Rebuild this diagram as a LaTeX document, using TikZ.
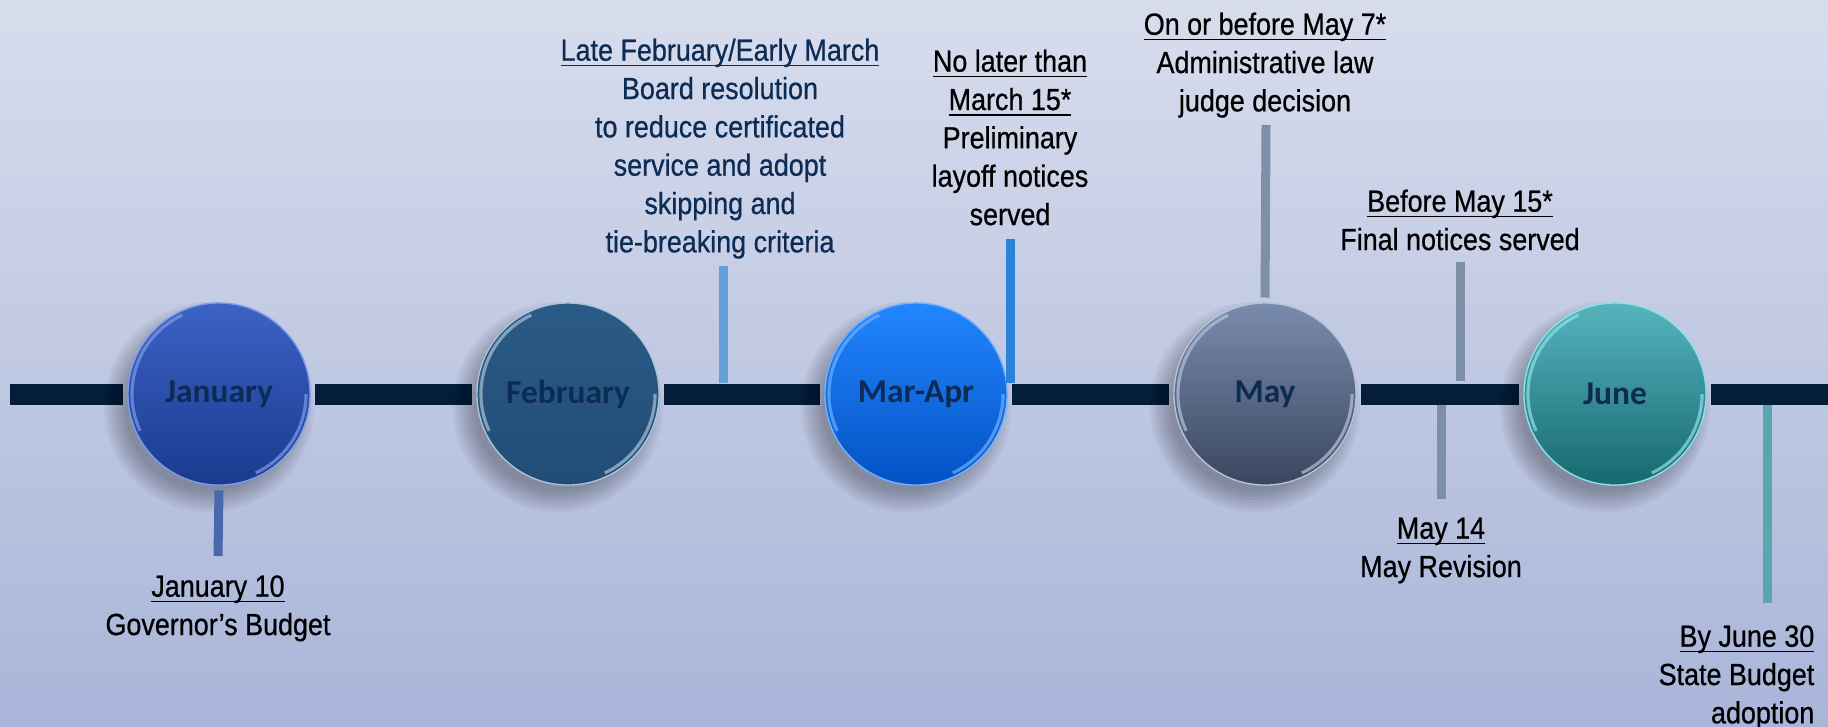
\documentclass[tikz,border=0pt]{standalone}
\usepackage{fontspec}
\usetikzlibrary{calc}
\newfontfamily\evfont[FakeStretch=0.88, FakeBold=0.6]{Liberation Sans}
\newfontfamily\mofont{Carlito}
\newcommand\ulbox[1]{\underline{\smash{#1}}}

\definecolor{bgtop}{HTML}{D8DDED}
\definecolor{bgbot}{HTML}{A9B5D9}
\definecolor{barnavy}{HTML}{031D3A}
\definecolor{txtnavy}{HTML}{0C2C55}
\definecolor{janTop}{HTML}{3D62C6}\definecolor{janBot}{HTML}{1A3A8E}\definecolor{janRim}{HTML}{7C9BE8}
\definecolor{febTop}{HTML}{2A5B86}\definecolor{febBot}{HTML}{214C75}\definecolor{febRim}{HTML}{A9C3D8}
\definecolor{marTop}{HTML}{2286FF}\definecolor{marBot}{HTML}{0352C4}\definecolor{marRim}{HTML}{6FB0FF}
\definecolor{mayTop}{HTML}{7A8CAE}\definecolor{mayBot}{HTML}{39465F}\definecolor{mayRim}{HTML}{B5C3D9}
\definecolor{junTop}{HTML}{56B4BE}\definecolor{junBot}{HTML}{176870}\definecolor{junRim}{HTML}{8EE0E8}
\definecolor{tickJan}{HTML}{4A67AE}
\definecolor{tickFeb}{HTML}{64A0D6}
\definecolor{tickMar}{HTML}{2C82D8}
\definecolor{tickMay}{HTML}{7E8FA8}
\definecolor{tickJun}{HTML}{5AA6AE}

\pgfdeclarelayer{back}
\pgfdeclarelayer{shade}
\pgfsetlayers{back,shade,main}

\begin{document}
\begin{tikzpicture}[x=0.01cm, y=-0.01cm,
		month/.style={circle, minimum size=1.82cm, inner sep=0pt, outer sep=1.5pt, line width=0.4pt,
			font=\mofont\bfseries\fontsize{9.5}{11}\selectfont, text=txtnavy},
		event/.style={align=center, inner sep=0pt, anchor=north,
			font=\evfont\fontsize{8.7}{10.9}\selectfont},
		bar/.style={line width=0.21cm, color=barnavy},
		tick/.style={line width=0.09cm},
		rim/.style={line width=0.9pt, opacity=0.7}]
			%%%%% START %%%%%
			
			\useasboundingbox (0, 0) rectangle (1828, 726);
			\begin{pgfonlayer}{back}
				\fill[top color=bgtop, bottom color=bgbot] (0, 0) rectangle (1828, 726);
			\end{pgfonlayer}
			
			\node[month, top color=janTop, bottom color=janBot, draw=janRim] (jan) at (219, 394) {January};
			\node[month, top color=febTop, bottom color=febBot, draw=febRim] (feb) at (568, 394) {February};
			\node[month, top color=marTop, bottom color=marBot, draw=marRim] (mar) at (916, 394) {Mar-Apr};
			\node[month, top color=mayTop, bottom color=mayBot, draw=mayRim] (may) at (1265, 394) {May};
			\node[month, top color=junTop, bottom color=junBot, draw=junRim] (jun) at (1615, 394) {June};
			
			\draw[rim, janRim] ($(jan)+(115:0.87cm)$) arc[start angle=115, end angle=205, radius=0.87cm];
			\draw[rim, febRim] ($(feb)+(115:0.87cm)$) arc[start angle=115, end angle=205, radius=0.87cm];
			\draw[rim, marRim] ($(mar)+(115:0.87cm)$) arc[start angle=115, end angle=205, radius=0.87cm];
			\draw[rim, mayRim] ($(may)+(115:0.87cm)$) arc[start angle=115, end angle=205, radius=0.87cm];
			\draw[rim, junRim] ($(jun)+(115:0.87cm)$) arc[start angle=115, end angle=205, radius=0.87cm];
			\draw[rim, janRim] ($(jan)+(-65:0.87cm)$) arc[start angle=-65, end angle=0, radius=0.87cm];
			\draw[rim, febRim] ($(feb)+(-65:0.87cm)$) arc[start angle=-65, end angle=0, radius=0.87cm];
			\draw[rim, marRim] ($(mar)+(-65:0.87cm)$) arc[start angle=-65, end angle=0, radius=0.87cm];
			\draw[rim, mayRim] ($(may)+(-65:0.87cm)$) arc[start angle=-65, end angle=0, radius=0.87cm];
			\draw[rim, junRim] ($(jun)+(-65:0.87cm)$) arc[start angle=-65, end angle=0, radius=0.87cm];
			
			% timeline bar and soft shadows
			\coordinate (lft) at (10, 394);
			\coordinate (rgt) at (1828, 394);
			\begin{pgfonlayer}{back}
				\draw[bar] (lft) -- (jan);
				\draw[bar] (jan) -- (feb);
				\draw[bar] (feb) -- (mar);
				\draw[bar] (mar) -- (may);
				\draw[bar] (may) -- (jun);
				\draw[bar] (jun) -- (rgt);
			\end{pgfonlayer}
			\begin{pgfonlayer}{shade}
				\foreach \n in {jan,feb,mar,may,jun}
					\foreach \k in {0,...,7}
						\fill[black, opacity=0.04] ($(\n)+(-10, 13)$) circle[radius={0.84cm+\k*0.03cm}];
			\end{pgfonlayer}
			
			% ticks
			\coordinate (t1) at (218, 556);
			\coordinate (t2a) at (723, 266);
			\coordinate (t2b) at (723, 383);
			\coordinate (t3a) at (1010, 239);
			\coordinate (t3b) at (1010, 383);
			\coordinate (t4) at (1266, 125);
			\coordinate (t5a) at (1460, 262);
			\coordinate (t5b) at (1460, 381);
			\coordinate (t6a) at (1441, 405);
			\coordinate (t6b) at (1441, 499);
			\coordinate (t7a) at (1767, 405);
			\coordinate (t7b) at (1767, 603);
			
			\draw[tick, color=tickJan] (jan.south) -- (t1);
			\draw[tick, color=tickFeb] (t2a) -- (t2b);
			\draw[tick, color=tickMar] (t3a) -- (t3b);
			\draw[tick, color=tickMay] (may.north) -- (t4);
			\draw[tick, color=tickMay] (t5a) -- (t5b);
			\draw[tick, color=tickMay] (t6a) -- (t6b);
			\draw[tick, color=tickJun] (t7a) -- (t7b);
			
			% texts
			\node[event, text=txtnavy] (latefeb) at (720, 60) {\ulbox{Late February/Early March}\\Board resolution\\to reduce certificated\\service and adopt\\skipping and\\tie-breaking criteria};
			\node[event] (nolater) at (1010, 71) {\ulbox{No later than}\\\ulbox{March 15*}\\Preliminary\\layoff notices\\served};
			\node[event] (may7) at (1265, 34) {\ulbox{On or before May 7*}\\Administrative law\\judge decision};
			\node[event] (may15) at (1460, 211) {\ulbox{Before May 15*}\\Final notices served};
			\node[event] (may14) at (1441, 538) {\ulbox{May 14}\\May Revision};
			\node[event] (jan10) at (218, 596) {\ulbox{January 10}\\Governor’s Budget};
			\node[event, align=right, anchor=north east] (jun30) at (1815, 646) {\ulbox{By June 30}\\State Budget\\adoption};
			
			%%%%% END %%%%%
		\end{tikzpicture}
\end{document}
